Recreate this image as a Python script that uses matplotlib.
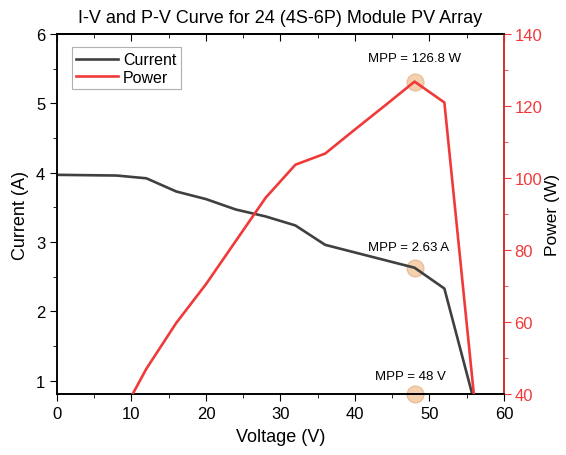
import numpy as np
import matplotlib
matplotlib.use('Agg')
import matplotlib.pyplot as plt
from matplotlib.ticker import MultipleLocator

plt.rcParams['font.family'] = ['Liberation Sans', 'DejaVu Sans']

# values
voltage = [0, 4, 8, 12, 16, 20, 24, 28, 32, 36, 40, 44, 48, 52, 56]
current = [3.97, 3.965, 3.96, 3.92, 3.73, 3.62, 3.47, 3.37, 3.24, 2.96, 2.85, 2.74, 2.63, 2.33, 0.7]
power = [0, 15.9, 31.7, 47.0, 59.7, 70.5, 82.5, 94.5, 103.7, 106.8, 113.5, 120.1, 126.8, 121.0, 39.0]
mpp_v = 48
mpp_i = 2.63
mpp_p = 126.8

red = '#f03a3a'
dark = '#404040'
dot = '#f3c9a0'

fig = plt.figure(figsize=(5.66, 4.56), dpi=100)
ax = fig.add_axes([0.1007, 0.134, 0.7897, 0.789])
ax2 = ax.twinx()

l1, = ax.plot(voltage, current, color=dark, lw=1.9, label='Current', zorder=3)
l2, = ax2.plot(voltage, power, color=red, lw=1.9, label='Power', zorder=3)

ax.set_xlim(0, 60)
ax.set_ylim(0.81, 6)
ax2.set_ylim(40, 140)

# MPP markers
mk = dict(marker='o', ms=12, mfc=dot, mec='#e8b890', alpha=0.85, ls='none', zorder=2, clip_on=False)
ax2.plot([mpp_v], [mpp_p], **mk)
ax.plot([mpp_v], [mpp_i], **mk)
ax.plot([mpp_v], [0.81], **mk)

ax2.annotate(f'MPP = {mpp_p} W', (mpp_v, mpp_p), xytext=(0, 15), textcoords='offset points',
             ha='center', fontsize=9.5)
ax.annotate(f'MPP = {mpp_i} A', (mpp_v, mpp_i), xytext=(-4, 13), textcoords='offset points',
            ha='center', fontsize=9.5)
ax.annotate(f'MPP = {mpp_v} V', (mpp_v, 0.81), xytext=(-3, 11), textcoords='offset points',
            ha='center', fontsize=9.5)

ax.set_title('I-V and P-V Curve for 24 (4S-6P) Module PV Array', fontsize=13, pad=9)
ax.set_xlabel('Voltage (V)', fontsize=13, labelpad=5)
ax.set_ylabel('Current (A)', fontsize=13, labelpad=5)
ax2.set_ylabel('Power (W)', fontsize=12.5, color='black', labelpad=2)

ax.xaxis.set_major_locator(MultipleLocator(10))
ax.xaxis.set_minor_locator(MultipleLocator(5))
ax.yaxis.set_major_locator(MultipleLocator(1))
ax.yaxis.set_minor_locator(MultipleLocator(0.5))
ax2.yaxis.set_major_locator(MultipleLocator(20))
ax2.yaxis.set_minor_locator(MultipleLocator(10))

ax.tick_params(axis='x', which='both', direction='out', labelsize=12)
ax.tick_params(axis='x', which='major', length=5)
ax.tick_params(axis='x', which='minor', length=3)
ax.tick_params(axis='y', which='major', direction='out', length=5, labelsize=12)
ax.tick_params(axis='y', which='minor', direction='out', length=3)
ax2.tick_params(axis='y', which='both', colors=red, labelsize=12)
ax2.tick_params(axis='y', which='major', length=5, pad=2.5)
ax2.tick_params(axis='y', which='minor', length=3)

# top axis ticks point inward
top = ax.secondary_xaxis('top')
top.xaxis.set_major_locator(MultipleLocator(10))
top.xaxis.set_minor_locator(MultipleLocator(5))
top.tick_params(which='both', direction='in', labeltop=False)
top.tick_params(which='major', length=5)
top.tick_params(which='minor', length=3)
top.spines['top'].set_linewidth(1.2)

for a in (ax, ax2):
    for s in a.spines.values():
        s.set_linewidth(1.2)
ax2.spines['right'].set_color(red)
ax.spines['left'].set_color('#303030')

leg = ax.legend([l1, l2], ['Current', 'Power'], loc='upper left', bbox_to_anchor=(0.015, 0.985),
                fontsize=11.5, fancybox=False, edgecolor='#b0b0b0', framealpha=1,
                handlelength=2.6, handletextpad=0.3, borderpad=0.3, labelspacing=0.15)
leg.get_frame().set_linewidth(0.8)

fig.savefig('out.png', dpi=100)
